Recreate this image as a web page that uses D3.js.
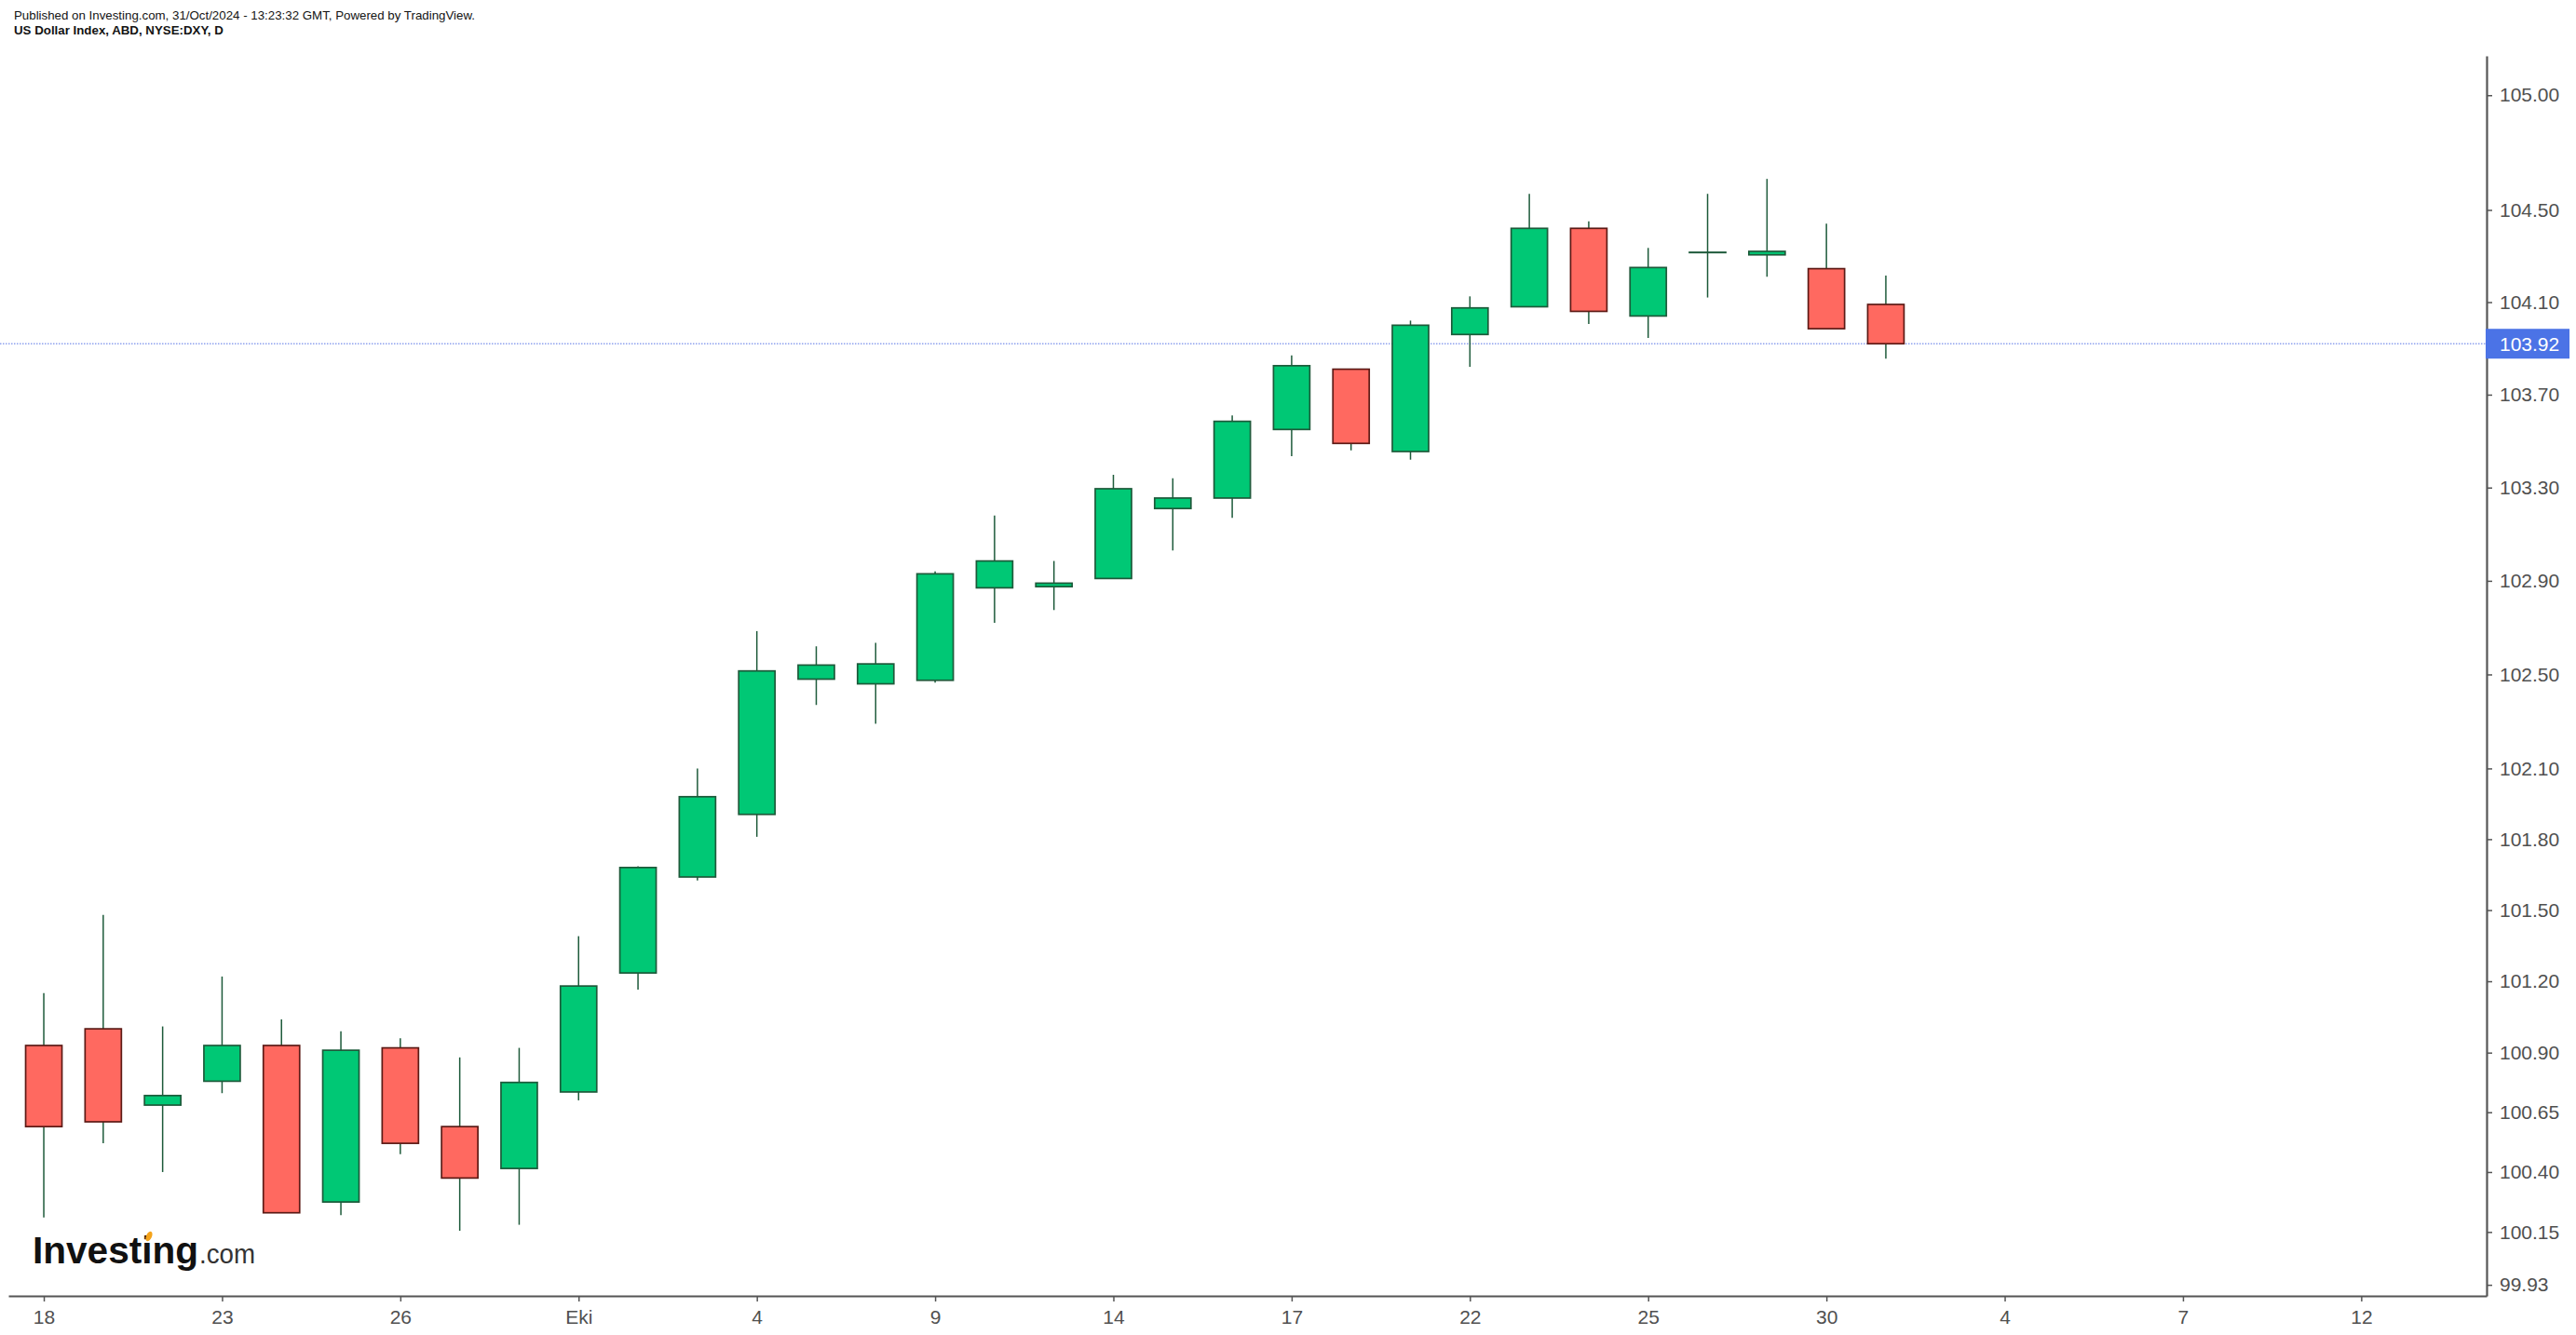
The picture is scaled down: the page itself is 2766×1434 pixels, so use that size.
<!DOCTYPE html>
<html>
<head>
<meta charset="utf-8">
<script src="https://cdn.jsdelivr.net/npm/d3@7"></script>
<style>
  body { margin: 0; background: #fff; }
  svg { display: block; font-family: 'Liberation Sans', Arial, sans-serif; }
</style>
</head>
<body>
<svg id="chart" width="2766" height="1434"></svg>
<script>
// daily candles, US Dollar Index (DXY)
const dates = [
  '2024-09-18', '2024-09-19', '2024-09-20', '2024-09-23', '2024-09-24', '2024-09-25',
  '2024-09-26', '2024-09-27', '2024-09-30', '2024-10-01', '2024-10-02', '2024-10-03',
  '2024-10-04', '2024-10-07', '2024-10-08', '2024-10-09', '2024-10-10', '2024-10-11',
  '2024-10-14', '2024-10-15', '2024-10-16', '2024-10-17', '2024-10-18', '2024-10-21',
  '2024-10-22', '2024-10-23', '2024-10-24', '2024-10-25', '2024-10-28', '2024-10-29',
  '2024-10-30', '2024-10-31',
];
const opens = [
  100.93, 101.00, 100.68, 100.78, 100.93, 100.275, 100.92, 100.59, 100.415, 100.735,
  101.235, 101.64, 101.905, 102.48, 102.46, 102.475, 102.87, 102.875, 102.91, 103.21,
  103.255, 103.55, 103.81, 103.455, 103.96, 104.08, 104.42, 104.04, 104.316, 104.305,
  104.245, 104.09,
];
const highs = [
  101.15, 101.48, 101.01, 101.22, 101.04, 100.99, 100.96, 100.88, 100.92, 101.39,
  101.685, 102.10, 102.685, 102.62, 102.635, 102.94, 103.18, 102.985, 103.355, 103.34,
  103.61, 103.87, 103.81, 104.02, 104.125, 104.57, 104.45, 104.335, 104.57, 104.635,
  104.44, 104.215,
];
const lows = [
  100.21, 100.52, 100.40, 100.73, 100.23, 100.22, 100.475, 100.155, 100.18, 100.70,
  101.165, 101.625, 101.81, 102.37, 102.29, 102.465, 102.72, 102.775, 102.91, 103.03,
  103.17, 103.435, 103.46, 103.42, 103.82, 104.08, 104.005, 103.945, 104.12, 104.21,
  103.985, 103.855,
];
const closes = [
  100.59, 100.61, 100.72, 100.93, 100.23, 100.91, 100.52, 100.375, 100.775, 101.18,
  101.68, 101.98, 102.515, 102.54, 102.545, 102.93, 102.985, 102.89, 103.295, 103.255,
  103.585, 103.825, 103.49, 104.00, 104.075, 104.42, 104.06, 104.25, 104.316, 104.32,
  103.985, 103.92,
];
const lastPrice = 103.92;

const xTickDates = [
  '2024-09-18', '2024-09-23', '2024-09-26', '2024-10-01', '2024-10-04', '2024-10-09', '2024-10-14',
  '2024-10-17', '2024-10-22', '2024-10-25', '2024-10-30', '2024-11-04', '2024-11-07', '2024-11-12',
];
const xTickLabels = ['18', '23', '26', 'Eki', '4', '9', '14', '17', '22', '25', '30', '4', '7', '12'];
const yTickValues = [
  105.00, 104.50, 104.10, 103.70, 103.30, 102.90, 102.50, 102.10,
  101.80, 101.50, 101.20, 100.90, 100.65, 100.40, 100.15, 99.93,
];

const width = 2766;
const height = 1434;
const plot = { left: 9, right: 2670, top: 60, bottom: 1392 };
const upFill = '#00c875';
const upStroke = '#1d5a3a';
const downFill = '#ff6960';
const downStroke = '#5c1a15';
const wickColor = '#1d5a3a';
const axisColor = '#555555';
const textColor = '#505050';

const svg = d3.select('#chart');
svg.append('rect').attr('width', width).attr('height', height).attr('fill', '#fff');

// trading calendar (weekdays only) so gaps for weekends disappear
const parse = d3.utcParse('%Y-%m-%d');
const fmt = d3.utcFormat('%Y-%m-%d');
const days = d3.utcDay
  .range(parse('2024-09-18'), parse('2024-11-16'))
  .filter((d) => d.getUTCDay() !== 0 && d.getUTCDay() !== 6);
const dayIndex = new Map(days.map((d, i) => [fmt(d), i]));

const x = d3.scaleLinear().domain([-0.596, 41.11]).range([plot.left, plot.right]);
const y = d3.scaleLog().domain([99.884, 105.172]).range([plot.bottom, plot.top]);

const candles = dates.map((d, i) => ({
  i: dayIndex.get(d),
  o: opens[i],
  h: highs[i],
  l: lows[i],
  c: closes[i],
}));

// last price dotted line
svg.append('line')
  .attr('x1', 0)
  .attr('x2', plot.right)
  .attr('y1', y(lastPrice))
  .attr('y2', y(lastPrice))
  .attr('stroke', '#8ea1ee')
  .attr('stroke-width', 1.5)
  .attr('stroke-dasharray', '1.5,1.5');

const bodyW = 39;
const g = svg.append('g')
  .selectAll('.candle')
  .data(candles)
  .enter()
  .append('g')
  .attr('class', 'candle');

g.append('line')
  .attr('x1', (d) => x(d.i))
  .attr('x2', (d) => x(d.i))
  .attr('y1', (d) => y(d.h))
  .attr('y2', (d) => y(d.l))
  .attr('stroke', wickColor)
  .attr('stroke-width', 1.5);

// a zero-height rect is not painted, so dojis keep a hairline body
g.append('rect')
  .attr('x', (d) => x(d.i) - bodyW / 2)
  .attr('y', (d) => y(Math.max(d.o, d.c)))
  .attr('width', bodyW)
  .attr('height', (d) => Math.max(Math.abs(y(d.o) - y(d.c)), 0.3))
  .attr('fill', (d) => (d.c >= d.o ? upFill : downFill))
  .attr('stroke', (d) => (d.c >= d.o ? upStroke : downStroke))
  .attr('stroke-width', 1.7);

// axes
const yAxis = d3.axisRight(y)
  .tickValues(yTickValues)
  .tickFormat(d3.format('.2f'))
  .tickSize(6)
  .tickSizeOuter(0)
  .tickPadding(8);

const xAxis = d3.axisBottom(x)
  .tickValues(xTickDates.map((d) => dayIndex.get(d)))
  .tickFormat((d, i) => xTickLabels[i])
  .tickSize(6)
  .tickSizeOuter(0)
  .tickPadding(9);

const yg = svg.append('g')
  .attr('transform', `translate(${plot.right},0)`)
  .call(yAxis);

const xg = svg.append('g')
  .attr('transform', `translate(0,${plot.bottom})`)
  .call(xAxis);

[yg, xg].forEach((a) => {
  a.attr('font-family', null).attr('font-size', null);
  a.select('.domain').attr('stroke', axisColor).attr('stroke-width', 2.2);
  a.selectAll('.tick line').attr('stroke', axisColor).attr('stroke-width', 1.5);
  a.selectAll('.tick text').attr('fill', textColor).style('font-size', '21px');
});

// last price tag
const tag = svg.append('g').attr('transform', `translate(${plot.right - 1},${y(lastPrice)})`);
tag.append('rect')
  .attr('x', 0)
  .attr('y', -16)
  .attr('width', 90)
  .attr('height', 32)
  .attr('fill', '#4b73e6');
tag.append('text')
  .attr('x', 15)
  .attr('dy', '0.35em')
  .attr('fill', '#fff')
  .style('font-size', '21px')
  .text(d3.format('.2f')(lastPrice));

// header
svg.append('text')
  .attr('x', 15)
  .attr('y', 20.5)
  .attr('fill', '#131313')
  .style('font-size', '13.3px')
  .text('Published on Investing.com, 31/Oct/2024 - 13:23:32 GMT, Powered by TradingView.');

svg.append('text')
  .attr('x', 15)
  .attr('y', 36.7)
  .attr('fill', '#131313')
  .style('font-size', '13.3px')
  .style('font-weight', 'bold')
  .text('US Dollar Index, ABD, NYSE:DXY, D');

// logo
const logo = svg.append('g');
logo.append('text')
  .attr('x', 35)
  .attr('y', 1357)
  .attr('fill', '#111')
  .attr('textLength', 178)
  .attr('lengthAdjust', 'spacingAndGlyphs')
  .style('font-size', '41px')
  .style('font-weight', 'bold')
  .text('Investing');
logo.append('ellipse')
  .attr('cx', 160)
  .attr('cy', 1328)
  .attr('rx', 3)
  .attr('ry', 5.5)
  .attr('transform', 'rotate(25,160,1328)')
  .attr('fill', '#f5a31a');
logo.append('text')
  .attr('x', 214)
  .attr('y', 1357)
  .attr('fill', '#333')
  .attr('textLength', 60)
  .attr('lengthAdjust', 'spacingAndGlyphs')
  .style('font-size', '29px')
  .text('.com');
</script>
</body>
</html>
